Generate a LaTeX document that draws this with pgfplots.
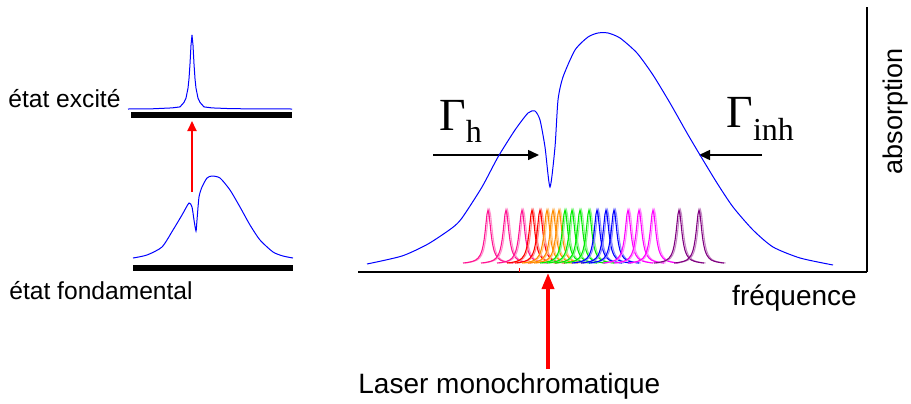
\documentclass[border=0pt]{standalone}
\usepackage{pgfplots}
\pgfplotsset{compat=1.18}
\usepackage{pgfplotstable}
\usepackage{fontspec}
\setmainfont{Liberation Sans}
\newfontfamily\serif{Liberation Serif}
\usetikzlibrary{arrows.meta}
\definecolor{cpink}{RGB}{255,20,147}
\definecolor{cred}{RGB}{255,0,0}
\definecolor{corange}{RGB}{255,140,0}
\definecolor{cgreen}{RGB}{0,235,0}
\definecolor{cblue}{RGB}{0,0,255}
\definecolor{cmag}{RGB}{255,0,255}
\definecolor{cpurple}{RGB}{128,0,128}
\definecolor{curve}{RGB}{0,0,255}

% shape of one homogeneous line (offset from its centre, absorption)
\pgfplotstableread{
d y
-25 9.0
-22 9.3
-18 10.0
-15 10.8
-12 12.2
-10 13.9
-8 16.7
-7 18.8
-6 21.7
-5 25.8
-4 31.4
-3 39.1
-2 48.7
-1 57.9
0 62.0
1 57.9
2 48.7
3 39.1
4 31.4
5 25.8
6 21.7
7 18.8
8 16.7
10 13.9
12 12.2
15 10.8
18 10.0
22 9.3
25 9.0
}\peak

\begin{document}
\begin{tikzpicture}
\path[use as bounding box] (0,0) rectangle (455.5pt,201.5pt);
% ---------- left panel and annotations (pixel frame) ----------
\begin{axis}[at={(0,0)},anchor=south west,scale only axis,
  width=455.5pt,height=201.5pt,xmin=0,xmax=911,ymin=0,ymax=403,
  y dir=reverse,hide axis,clip=false]
% excited state line
\addplot[curve,line width=0.5pt] coordinates {
(128,109)(152,108.8)(172,107.9)(180,106.9)(184,102.4)(186,98.1)(188,88.2)(189,78.7)
(190,63.9)(191,45.2)(192,35)(193,45.2)(194,63.9)(195,78.7)(196,88.2)(198,98.1)
(200,102.4)(204,106.9)(212,107.9)(232,108.7)(292,109)};
% ground state profile with hole
\addplot[curve,line width=0.5pt,smooth,tension=0.4] coordinates {
(133,258)(147,255)(162,247)(173,230)(182,215)(189,203)(192,207)(194,220)(196,231)
(197,220)(199,197)(202,187)(207,178)(212,176)(220,178)(230,190)(240,207)(250,225)
(260,240)(273,252)(283,256)(293,258)};
% levels
\addplot[black,line width=2.6pt] coordinates {(131,115)(292,115)};
\addplot[black,line width=2.6pt] coordinates {(133,268)(293,268)};
% arrows
\draw[cred,line width=1pt,-{Triangle[length=5pt,width=4.5pt]}] (axis cs:192,192) -- (axis cs:192,121);
\draw[black,line width=0.75pt,-{Triangle[length=5.5pt,width=5pt]}] (axis cs:433,155) -- (axis cs:539,155);
\draw[black,line width=0.75pt,-{Triangle[length=5.5pt,width=5pt]}] (axis cs:762,155) -- (axis cs:699,155);
% texts
\node[anchor=base west,inner sep=0,font=\fontsize{12.3}{14}\selectfont] at (axis cs:8,107) {état excité};
\node[anchor=base west,inner sep=0,font=\fontsize{12.3}{14}\selectfont] at (axis cs:9,299) {état fondamental};
\node[anchor=base,inner sep=0,font=\fontsize{14}{16}\selectfont] at (axis cs:794.5,305) {fréquence};
\node[anchor=base west,inner sep=0,font=\fontsize{14}{16}\selectfont] at (axis cs:358,393) {Laser monochromatique};
\node[rotate=90,inner sep=0,font=\fontsize{13.5}{16}\selectfont] at (axis cs:896,111) {absorption};
\node[anchor=base west,inner sep=0] at (axis cs:439,130)
  {\fontsize{23}{23}\serif Γ\fontsize{16}{16}\selectfont\raisebox{-6pt}{h}};
\node[anchor=base west,inner sep=0] at (axis cs:726,127)
  {\fontsize{23}{23}\serif Γ\fontsize{16}{16}\selectfont\raisebox{-6.5pt}{inh}};
\end{axis}
% ---------- main absorption chart ----------
\begin{axis}[at={(179pt,65.5pt)},anchor=south west,scale only axis,
  width=254.5pt,height=132.5pt,xmin=0,xmax=509,ymin=0,ymax=265,
  axis x line=bottom,axis y line=right,
  axis line style={-,line width=0.7pt,black},
  xtick=\empty,ytick=\empty,clip=false]
% homogeneous lines (centres in frequency units)
\pgfplotsinvokeforeach{130,148,164}{
  \addplot[cpink!45,line width=0.55pt] table[x expr=\thisrow{d}+#1+1.5,y=y]{\peak};
  \addplot[cpink,line width=0.55pt] table[x expr=\thisrow{d}+#1,y=y]{\peak};}
\pgfplotsinvokeforeach{174,182}{
  \addplot[cred!45,line width=0.55pt] table[x expr=\thisrow{d}+#1+1.5,y=y]{\peak};
  \addplot[cred,line width=0.55pt] table[x expr=\thisrow{d}+#1,y=y]{\peak};}
\pgfplotsinvokeforeach{189,195,201}{
  \addplot[corange!45,line width=0.55pt] table[x expr=\thisrow{d}+#1+1.5,y=y]{\peak};
  \addplot[corange,line width=0.55pt] table[x expr=\thisrow{d}+#1,y=y]{\peak};}
\pgfplotsinvokeforeach{207,214,222,231}{
  \addplot[cgreen!45,line width=0.55pt] table[x expr=\thisrow{d}+#1+1.5,y=y]{\peak};
  \addplot[cgreen,line width=0.55pt] table[x expr=\thisrow{d}+#1,y=y]{\peak};}
\pgfplotsinvokeforeach{239,248,256}{
  \addplot[cblue!45,line width=0.55pt] table[x expr=\thisrow{d}+#1+1.5,y=y]{\peak};
  \addplot[cblue,line width=0.55pt] table[x expr=\thisrow{d}+#1,y=y]{\peak};}
\pgfplotsinvokeforeach{270,281,295}{
  \addplot[cmag!45,line width=0.55pt] table[x expr=\thisrow{d}+#1+1.5,y=y]{\peak};
  \addplot[cmag,line width=0.55pt] table[x expr=\thisrow{d}+#1,y=y]{\peak};}
\pgfplotsinvokeforeach{321,341}{
  \addplot[cpurple!45,line width=0.55pt] table[x expr=\thisrow{d}+#1+1.5,y=y]{\peak};
  \addplot[cpurple,line width=0.55pt] table[x expr=\thisrow{d}+#1,y=y]{\peak};}
% inhomogeneous profile with spectral hole
\addplot[curve,line width=0.5pt,smooth,tension=0.4] coordinates {
(9,8)(44,16)(70,28)(94,44)(104,54)(124,85)(140,115)(157,142)(170,159)(177,161)
(182,152)(187,125)(192,85)(197,125)(200,172)(205,195)(217,222)(230,235)(240,239)
(250,239)(262,234)(279,219)(295,197)(312,169)(329,139)(342,117)(359,89)(375,65)
(395,42)(415,25)(442,14)(475,7)};
\addplot[cred,line width=0.5pt] coordinates {(161,0)(161,4)};
% laser
\draw[cred,line width=1.75pt,-{Triangle[length=8pt,width=6pt]}] (axis cs:190,-97) -- (axis cs:190,-1);
\end{axis}
\end{tikzpicture}
\end{document}
